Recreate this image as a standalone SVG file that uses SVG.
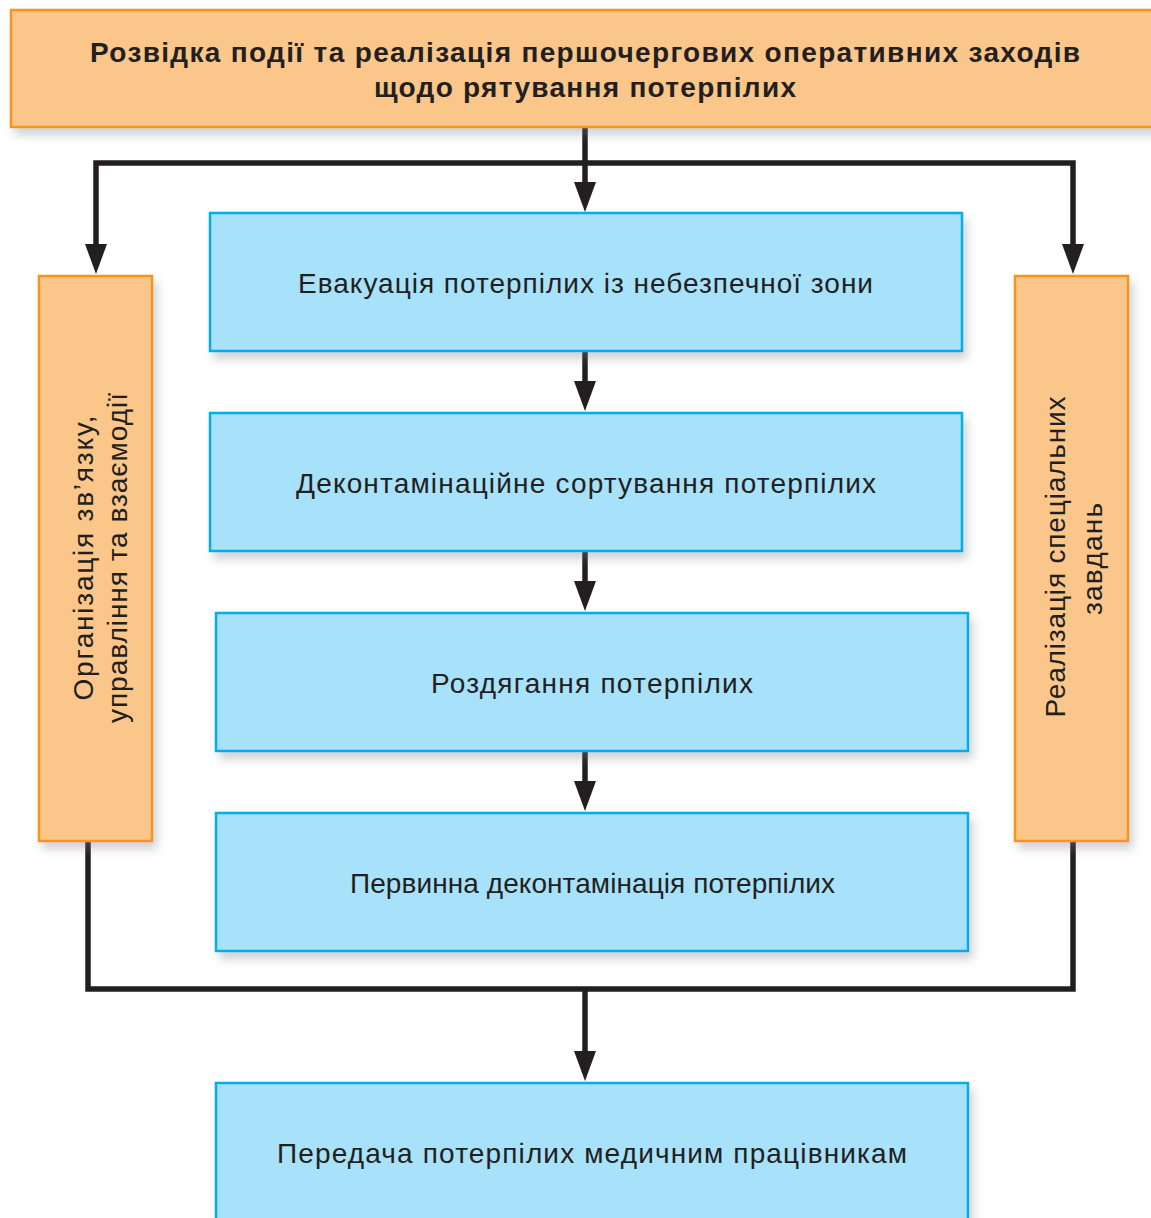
<svg xmlns="http://www.w3.org/2000/svg" width="1151" height="1218" viewBox="0 0 1151 1218">
<style>
.or{fill:#FBC68A;stroke:#F7941D;stroke-width:2.5}
.bl{fill:#A8E1FA;stroke:#00AEEF;stroke-width:2.5}
.t{font-family:"Liberation Sans",Arial,sans-serif;font-size:28px;fill:#231F20;text-anchor:middle}
.tb{font-weight:bold;font-size:28px}
.c{fill:none;stroke:#231F20;stroke-width:5.5;stroke-linejoin:miter}
</style>
<defs>
<filter id="sh" x="-10%" y="-10%" width="130%" height="140%">
<feDropShadow dx="4" dy="7" stdDeviation="5" flood-color="#7a7f86" flood-opacity="0.35"/>
</filter>
<marker id="ah" viewBox="0 0 30 22" refX="10" refY="11" markerWidth="30" markerHeight="22" markerUnits="userSpaceOnUse" orient="auto">
<path d="M0,0 L30,11 L0,22 z" fill="#231F20"/>
</marker>
</defs>
<rect width="1151" height="1218" fill="#fff"/>
<g id="connectors">
<path class="c" d="M585,127 V192" marker-end="url(#ah)"/>
<path class="c" d="M585,163 H96 V254" marker-end="url(#ah)"/>
<path class="c" d="M585,163 H1073 V254" marker-end="url(#ah)"/>
<path class="c" d="M585,351 V391" marker-end="url(#ah)"/>
<path class="c" d="M585,551 V591" marker-end="url(#ah)"/>
<path class="c" d="M585,751 V791" marker-end="url(#ah)"/>
<path class="c" d="M88,841 V989 H1073 V841"/>
<path class="c" d="M585,989 V1061" marker-end="url(#ah)"/>
</g>
<g id="n-top">
<rect class="or" x="11" y="10" width="1150" height="117" filter="url(#sh)"/>
<text class="t tb" x="585" y="62" textLength="990" lengthAdjust="spacing">Розвідка події та реалізація першочергових оперативних заходів</text>
<text class="t tb" x="585" y="97" textLength="422" lengthAdjust="spacing">щодо рятування потерпілих</text>
</g>
<g id="n-left">
<rect class="or" x="39" y="276" width="113" height="565" filter="url(#sh)"/>
<text class="t" transform="translate(93,558) rotate(-90)" textLength="285" lengthAdjust="spacing">Організація зв’язку,</text>
<text class="t" transform="translate(127,558) rotate(-90)" textLength="330" lengthAdjust="spacing">управління та взаємодії</text>
</g>
<g id="n-right">
<rect class="or" x="1015" y="276" width="113" height="565" filter="url(#sh)"/>
<text class="t" transform="translate(1065,557) rotate(-90)" textLength="321" lengthAdjust="spacing">Реалізація спеціальних</text>
<text class="t" transform="translate(1102,559) rotate(-90)" textLength="112" lengthAdjust="spacing">завдань</text>
</g>
<g id="n-evac">
<rect class="bl" x="210" y="213" width="752" height="138" filter="url(#sh)"/>
<text class="t" x="585.5" y="293" textLength="575" lengthAdjust="spacing">Евакуація потерпілих із небезпечної зони</text>
</g>
<g id="n-sort">
<rect class="bl" x="210" y="413" width="752" height="138" filter="url(#sh)"/>
<text class="t" x="586" y="493" textLength="580" lengthAdjust="spacing">Деконтамінаційне сортування потерпілих</text>
</g>
<g id="n-undress">
<rect class="bl" x="216" y="613" width="752" height="138" filter="url(#sh)"/>
<text class="t" x="592" y="693" textLength="322" lengthAdjust="spacing">Роздягання потерпілих</text>
</g>
<g id="n-decon">
<rect class="bl" x="216" y="813" width="752" height="138" filter="url(#sh)"/>
<text class="t" x="592.5" y="893" textLength="485" lengthAdjust="spacing">Первинна деконтамінація потерпілих</text>
</g>
<g id="n-transfer">
<rect class="bl" x="216" y="1083" width="752" height="150" filter="url(#sh)"/>
<text class="t" x="592" y="1163" textLength="630" lengthAdjust="spacing">Передача потерпілих медичним працівникам</text>
</g>
</svg>
